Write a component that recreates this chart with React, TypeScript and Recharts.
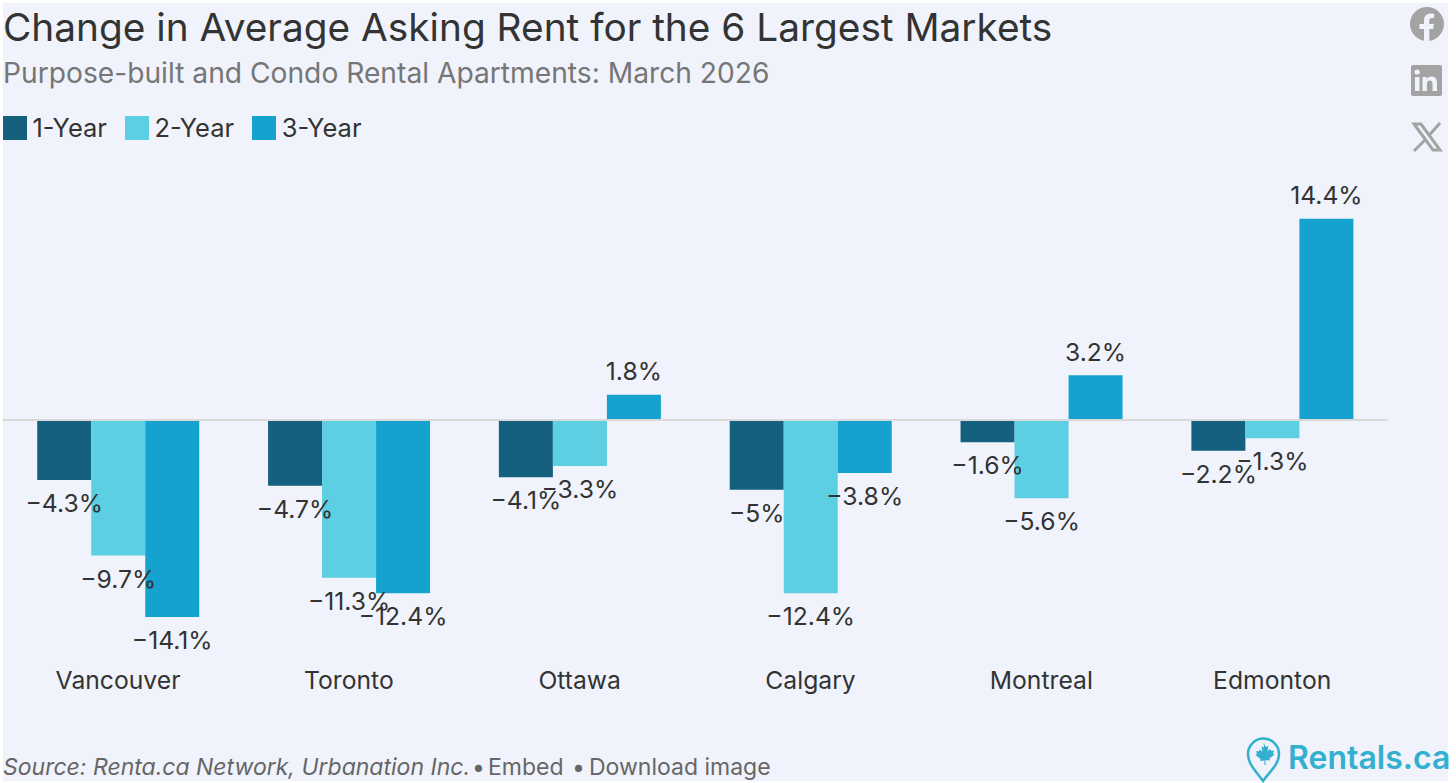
import React from "react";
import { ComposedChart, Bar, XAxis, YAxis, LabelList, ReferenceLine, Legend } from "recharts";

const cities = ["Vancouver", "Toronto", "Ottawa", "Calgary", "Montreal", "Edmonton"];
const oneYear = [-4.3, -4.7, -4.1, -5, -1.6, -2.2];
const twoYear = [-9.7, -11.3, -3.3, -12.4, -5.6, -1.3];
const threeYear = [-14.1, -12.4, 1.8, -3.8, 3.2, 14.4];

const seriesColors = ["#14607e", "#5ccfe2", "#16a2cf"];
const seriesNames = ["1-Year", "2-Year", "3-Year"];
const rows = cities.map((city, i) => ({ city, a: oneYear[i], b: twoYear[i], c: threeYear[i] }));

const FONT = "Inter, sans-serif";
const fmt = (v: any) => `${v < 0 ? "\u2212" : ""}${Math.abs(v)}%`;

const LegendBox = ({ payload }: any) => (
  <div style={{ display: "flex", fontFamily: FONT, fontSize: 25.5, color: "#333", lineHeight: "24px" }}>
    {(payload || []).map((p: any) => (
      <div key={p.value} style={{ display: "flex", alignItems: "center", marginRight: 18 }}>
        <span style={{ width: 24, height: 24, background: p.color, marginRight: 5.5, display: "block" }} />
        <span>{p.value}</span>
      </div>
    ))}
  </div>
);

const abs = (o: React.CSSProperties): React.CSSProperties => ({ position: "absolute", whiteSpace: "nowrap", ...o });
const foot = (left: number): React.CSSProperties =>
  abs({ left, top: 752, fontFamily: FONT, fontSize: 23, lineHeight: "30px", color: "#666" });

export default function App() {
  return (
    <div style={{ position: "absolute", left: 0, top: 0, width: 1456, height: 783, background: "#fff", overflow: "hidden" }}>
      <div style={abs({ left: 3, top: 3, width: 1445, height: 778, background: "#f0f3fb" })} />
      <div style={abs({ left: 3, top: 4, fontFamily: FONT, fontSize: 38.8, lineHeight: "46px", color: "#333" })}>
        Change in Average Asking Rent for the 6 Largest Markets
      </div>
      <div style={abs({ left: 3, top: 56, fontFamily: FONT, fontSize: 28.2, lineHeight: "34px", color: "#767676" })}>
        Purpose-built and Condo Rental Apartments: March 2026
      </div>
      <div style={{ position: "absolute", left: 0, top: 0 }}>
        <ComposedChart width={1456} height={783} data={rows} barGap={0} barCategoryGap="15%"
          margin={{ top: 182.5, right: 68.4, bottom: 71.5, left: 2.6 }}>
          <XAxis dataKey="city" axisLine={false} tickLine={false} tickMargin={8}
            tick={{ fontFamily: FONT, fontSize: 24.7, fill: "#333" }} interval={0} />
          <YAxis hide domain={[-17, 17]} />
          <Legend content={<LegendBox />} wrapperStyle={{ left: 3, top: 116, width: 500, bottom: "auto" }} />
          <ReferenceLine y={0} stroke="#d9d9d9" strokeWidth={2} />
          {(["a", "b", "c"] as const).map((k, i) => (
            <Bar key={k} dataKey={k} name={seriesNames[i]} fill={seriesColors[i]} isAnimationActive={false}>
              <LabelList dataKey={k} position="top" offset={14.5} formatter={fmt}
                style={{ fontFamily: FONT, fontSize: 24.7, fill: "#333" }} />
            </Bar>
          ))}
        </ComposedChart>
      </div>
      <div style={foot(3)}><i>Source: Renta.ca Network, Urbanation Inc.</i></div>
      <div style={foot(472)}>•</div>
      <div style={foot(488)}>Embed</div>
      <div style={foot(572)}>•</div>
      <div style={foot(589)}>Download image</div>
      <svg style={{ position: "absolute", left: 1404, top: 5 }} width="44" height="150" viewBox="0 0 44 150">
        <circle cx="23" cy="19" r="17" fill="#a3a3a3" />
        <path d="M20 36V24h-4.500v-5H20v-3.500c0-4.500 2.700-7 6.800-7 1.500 0 3.200.3 3.200.3v4.200h-2c-2 0-2.700 1.300-2.700 2.600V19h4.600l-.8 5h-3.800v12z" fill="#f0f3fb" />
        <g transform="translate(-1 -5)">
          <rect x="8" y="65" width="31" height="31" rx="2" fill="#a3a3a3" />
          <rect x="12" y="77" width="4.500" height="14" fill="#f0f3fb" />
          <circle cx="14.200" cy="72" r="2.600" fill="#f0f3fb" />
          <path d="M19.500 77h4.300v2c1-1.500 2.500-2.400 4.500-2.400 4 0 5.700 2.500 5.700 6.500V91h-4.500v-7c0-2.300-.7-3.600-2.600-3.600s-3 1.400-3 3.600v7h-4.400z" fill="#f0f3fb" />
        </g>
        <g transform="translate(0 -5)">
          <path d="M10 124h7l19 26h-7z" fill="none" stroke="#a3a3a3" strokeWidth="3" />
          <path d="M36 123L24.500 136M21 140L10 151" stroke="#a3a3a3" strokeWidth="3" fill="none" />
        </g>
      </svg>
      <svg style={{ position: "absolute", left: 1244, top: 734 }} width="40" height="49" viewBox="0 0 40 49">
        <path d="M19 47C13 38 4 31 4 20a15.500 15.500 0 0 1 31 0C35 31 25 38 19 47z" fill="none" stroke="#33afd0" strokeWidth="2.500" />
        <path d="M19.500 9l2.500 4 2.500-1-1 5 3-2 .8 2 2.700-.5-1 3 1.500 1-5 4 .5 2-4.500-.5V31h-1v-4.500l-4.500.5.500-2-5-4 1.500-1-1-3 2.700.5.800-2 3 2-1-5 2.500 1z" fill="#33afd0" />
      </svg>
      <div style={abs({ left: 1288, top: 738, fontFamily: FONT, fontWeight: 600, fontSize: 32, lineHeight: "40px", color: "#33afd0" })}>
        Rentals.ca
      </div>
    </div>
  );
}
